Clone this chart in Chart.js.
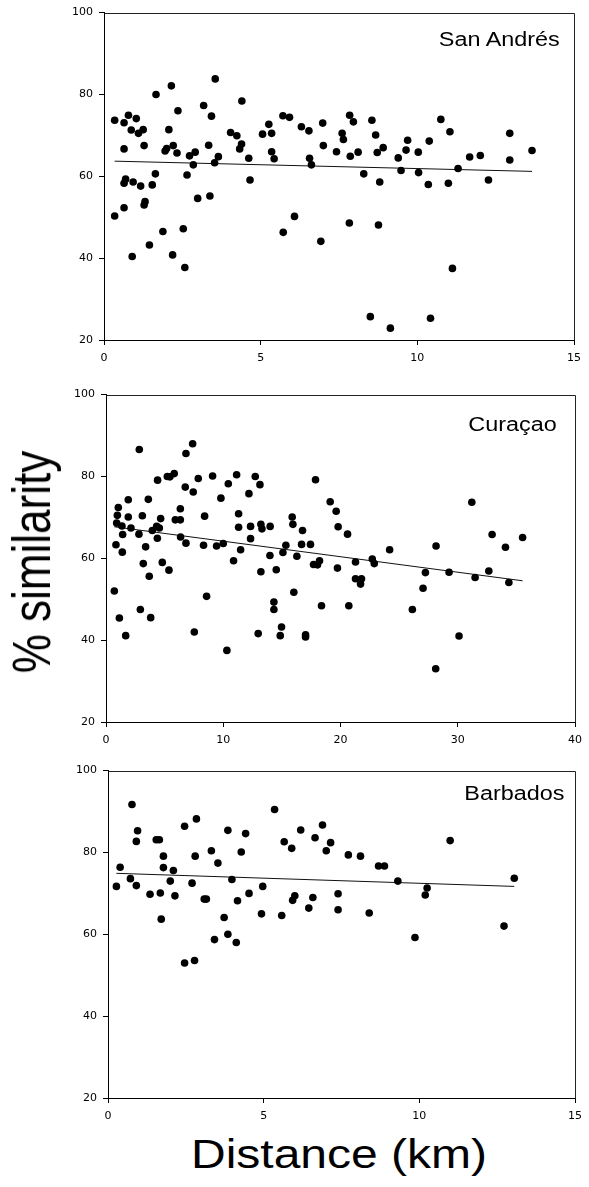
<!DOCTYPE html>
<html lang="en">
<head>
    <meta charset="UTF-8">
    <title>% similarity vs distance</title>
    <script src="https://cdn.jsdelivr.net/npm/chart.js"></script>
    <style>
        body { margin: 0; background: #fff; }
        #page { position: relative; width: 589px; height: 1187px; overflow: hidden; background: #fff; }
        canvas { position: absolute; left: 0; }
        .lbl { position: absolute; font-family: "Liberation Sans", Arial, sans-serif; color: #000; line-height: 1; white-space: nowrap; }
        .panel-name { font-size: 19.5px; transform: scaleX(1.2); transform-origin: right center; }
    </style>
</head>
<body>
<div id="page">
    <canvas id="c1" width="589" height="366" style="top:0px"></canvas>
    <canvas id="c2" width="589" height="366" style="top:382px"></canvas>
    <canvas id="c3" width="589" height="366" style="top:758px"></canvas>

    <div class="lbl panel-name" style="right:29px; top:30px">San Andrés</div>
    <div class="lbl panel-name" style="right:32px; top:415px">Curaçao</div>
    <div class="lbl panel-name" style="right:25px; top:784px">Barbados</div>

    <div class="lbl" style="left:32px; top:562px; font-size:44px; transform: translate(-50%,-50%) rotate(-90deg) scaleY(1.2);">% similarity</div>
    <div class="lbl" style="left:339px; top:1154px; font-size:40px; transform: translate(-50%,-50%) scaleX(1.2);">Distance (km)</div>
</div>

<script>
    // San Andrés
    const sanAndresDist = [0.34, 0.64, 0.78, 1.03, 0.87, 1.10, 1.25, 0.64, 1.28, 0.69, 0.64, 0.93, 1.17, 0.34, 0.64, 1.31, 1.28, 1.54, 1.64, 0.90,
        1.45, 1.88, 1.66, 2.15, 2.07, 1.95, 2.00, 2.21, 2.36, 2.33, 2.19, 2.53, 2.58, 2.65, 2.73, 2.91, 2.85, 2.99, 3.18, 3.34,
        3.38, 3.43, 3.55, 3.53, 3.65, 4.04, 4.24, 4.39, 4.33, 4.40, 4.62, 4.66, 5.06, 5.26, 5.35, 5.35, 5.43, 5.71, 5.92, 5.72,
        6.08, 6.30, 6.54, 6.56, 6.62, 6.92, 6.98, 7.00, 7.42, 7.60, 7.64, 7.84, 7.96, 7.86, 8.11, 8.29, 7.83, 8.55, 8.67, 8.72,
        8.91, 8.80, 8.76, 8.50, 9.14, 9.39, 9.64, 9.69, 9.48, 10.03, 10.04, 10.38, 10.35, 10.42, 10.75, 11.04, 10.99, 11.30, 11.12, 11.67,
        12.01, 12.27, 12.95, 12.95, 13.66];
    const sanAndresSim = [73.7, 73.1, 74.9, 74.1, 71.3, 70.5, 71.4, 66.7, 67.5, 59.3, 58.3, 58.6, 57.6, 50.3, 52.3, 53.8, 53.0, 57.9, 60.6, 40.4,
        43.2, 46.5, 80.0, 82.1, 71.4, 66.2, 66.8, 67.5, 76.0, 65.7, 40.8, 47.2, 37.7, 60.3, 65.0, 65.9, 62.8, 54.6, 77.3, 67.6,
        55.2, 74.7, 83.8, 63.3, 64.8, 70.7, 69.9, 67.9, 66.7, 78.4, 64.4, 59.1, 70.3, 72.7, 70.5, 66.0, 64.3, 74.8, 74.4, 46.3,
        50.2, 72.1, 71.1, 64.4, 62.8, 44.1, 73.0, 67.5, 66.0, 70.5, 69.0, 74.9, 73.3, 64.9, 65.9, 60.6, 48.6, 73.7, 70.1, 65.8,
        67.0, 58.6, 48.1, 25.7, 22.9, 64.5, 66.4, 68.8, 61.4, 65.9, 60.9, 68.6, 58.0, 25.3, 73.9, 70.9, 58.3, 61.9, 37.5, 64.7,
        65.1, 59.1, 70.5, 64.0, 66.3];
    const sanAndresFitX = [0.34, 13.66];
    const sanAndresFitY = [63.7, 61.2];

    // Curaçao
    const curacaoDist = [0.71, 1.05, 0.97, 0.91, 0.85, 1.14, 1.36, 1.42, 1.39, 1.68, 1.90, 1.90, 2.13, 2.84, 2.81, 3.10, 3.18, 2.93, 3.38, 3.61,
        3.69, 3.81, 3.95, 4.32, 4.55, 4.66, 4.38, 4.40, 4.80, 5.23, 5.45, 5.82, 5.37, 5.91, 6.34, 6.34, 6.36, 6.82, 6.76, 6.82,
        7.39, 7.44, 7.53, 7.87, 8.32, 8.41, 8.58, 9.09, 9.43, 9.80, 10.00, 10.31, 10.43, 10.88, 11.14, 11.31, 11.31, 11.48, 12.19, 12.33,
        12.33, 12.73, 13.13, 12.98, 13.21, 13.21, 13.30, 14.00, 13.98, 14.32, 14.32, 14.52, 14.97, 14.86, 15.09, 15.34, 15.88, 15.94, 16.02, 16.28,
        16.76, 16.68, 17.02, 17.02, 17.44, 17.87, 17.70, 18.04, 18.21, 18.38, 19.12, 19.63, 19.80, 19.74, 20.60, 20.71, 21.28, 21.28, 21.79, 21.71,
        22.71, 22.88, 24.19, 26.13, 27.04, 27.24, 28.15, 28.12, 29.26, 30.11, 31.20, 31.48, 32.65, 32.93, 34.07, 34.36, 35.53];
    const curacaoSim = [52.0, 72.4, 70.5, 68.6, 63.3, 45.4, 67.9, 65.8, 61.5, 41.1, 74.3, 70.1, 67.4, 86.6, 65.9, 70.4, 58.7, 47.5, 62.8, 74.4,
        55.6, 45.5, 66.8, 67.8, 67.4, 69.7, 64.9, 79.1, 59.0, 80.0, 79.9, 80.7, 57.1, 69.4, 69.4, 72.1, 65.2, 85.6, 77.4, 63.7,
        88.0, 76.2, 42.0, 79.5, 63.2, 70.3, 50.7, 80.1, 63.0, 74.7, 63.6, 37.5, 78.2, 59.4, 80.4, 70.9, 67.6, 62.1, 75.8, 67.8,
        64.8, 80.0, 78.0, 41.6, 56.7, 68.3, 67.2, 67.8, 60.7, 49.3, 47.5, 57.2, 43.2, 41.1, 61.4, 63.2, 70.1, 68.3, 51.7, 60.5,
        66.8, 63.4, 41.3, 40.8, 63.4, 79.2, 58.5, 58.4, 59.4, 48.4, 73.8, 71.5, 67.7, 57.6, 65.9, 48.4, 59.1, 55.0, 55.0, 53.7,
        59.8, 58.7, 62.1, 47.5, 52.7, 56.5, 63.0, 33.0, 56.6, 41.0, 73.7, 55.3, 56.9, 65.8, 62.7, 54.1, 65.1];
    const curacaoFitX = [0.71, 35.53];
    const curacaoFitY = [67.7, 54.5];

    // Barbados
    const barbadosDist = [0.27, 0.39, 0.77, 0.72, 0.91, 0.95, 0.91, 1.35, 1.55, 1.65, 1.78, 1.78, 1.68, 1.71, 2.00, 2.10, 2.15, 2.46, 2.70, 2.80,
        2.84, 2.46, 2.78, 3.09, 3.16, 3.32, 3.42, 3.53, 3.73, 3.85, 3.85, 3.98, 4.12, 4.16, 4.28, 4.42, 4.53, 4.97, 4.93, 5.35,
        5.66, 5.58, 5.90, 5.93, 6.00, 6.19, 6.45, 6.58, 6.65, 6.89, 7.01, 7.15, 7.39, 7.39, 7.72, 8.11, 8.39, 8.69, 8.88, 9.31,
        9.86, 10.19, 10.25, 10.99, 12.72, 13.05];
    const barbadosSim = [71.7, 76.4, 91.7, 73.6, 82.7, 85.3, 71.9, 69.8, 83.1, 83.1, 79.1, 76.3, 70.1, 63.7, 73.0, 75.6, 69.4, 86.4, 72.5, 79.1,
        88.2, 53.0, 53.6, 68.6, 68.6, 80.4, 58.7, 77.4, 64.1, 85.4, 60.0, 73.4, 58.0, 68.2, 80.1, 84.6, 70.0, 71.7, 65.0, 90.5,
        82.6, 64.6, 81.0, 68.3, 69.4, 85.5, 66.4, 69.0, 83.6, 86.7, 80.4, 82.4, 69.9, 66.0, 79.4, 79.1, 65.2, 76.7, 76.7, 73.0,
        59.2, 69.6, 71.3, 82.9, 62.0, 73.7];
    const barbadosFitX = [0.27, 13.05];
    const barbadosFitY = [74.9, 71.7];

    const yTicks = [20, 40, 60, 80, 100];

    // draws the top and right sides of the box around the plot
    const framePlugin = {
        id: 'frame',
        afterDraw(chart) {
            const a = chart.chartArea;
            const ctx = chart.ctx;
            ctx.save();
            ctx.strokeStyle = '#222';
            ctx.lineWidth = 1;
            ctx.beginPath();
            ctx.moveTo(Math.round(a.left) + 0.5, Math.round(a.top) + 0.5);
            ctx.lineTo(Math.round(a.right) + 0.5, Math.round(a.top) + 0.5);
            ctx.lineTo(Math.round(a.right) + 0.5, Math.round(a.bottom) + 0.5);
            ctx.stroke();
            ctx.restore();
        }
    };

    function toPoints(xs, ys) {
        return xs.map((x, i) => ({ x: x, y: ys[i] }));
    }

    function makePanel(id, xs, ys, fitX, fitY, xMax, xStep, leftW, rightPad) {
        const ctx = document.getElementById(id).getContext('2d');
        return new Chart(ctx, {
            type: 'scatter',
            data: {
                datasets: [{
                    data: toPoints(xs, ys),
                    backgroundColor: '#000',
                    borderColor: '#000',
                    pointRadius: 3.8,
                    pointHoverRadius: 3.8,
                    borderWidth: 0
                }, {
                    type: 'line',
                    data: toPoints(fitX, fitY),
                    borderColor: '#111',
                    borderWidth: 1,
                    pointRadius: 0,
                    fill: false
                }]
            },
            options: {
                responsive: false,
                animation: false,
                devicePixelRatio: 1,
                layout: { padding: { top: 12, right: rightPad, left: 0, bottom: 0 } },
                plugins: { legend: { display: false }, tooltip: { enabled: false } },
                scales: {
                    x: {
                        type: 'linear',
                        min: 0,
                        max: xMax,
                        afterFit: s => { s.height = 26; },
                        ticks: { stepSize: xStep, color: '#000', padding: 7, font: { family: 'DejaVu Sans', size: 11 } },
                        grid: { drawOnChartArea: false, drawTicks: true, tickLength: 5, color: '#000' },
                        border: { display: true, color: '#000', width: 1 }
                    },
                    y: {
                        min: 20,
                        max: 100,
                        afterFit: s => { s.width = leftW; },
                        afterBuildTicks: s => { s.ticks = yTicks.map(v => ({ value: v })); },
                        ticks: { color: '#000', padding: 6, font: { family: 'DejaVu Sans', size: 11 } },
                        grid: { drawOnChartArea: false, drawTicks: true, tickLength: 5, color: '#000' },
                        border: { display: true, color: '#000', width: 1 }
                    }
                }
            },
            plugins: [framePlugin]
        });
    }

    makePanel('c1', sanAndresDist, sanAndresSim, sanAndresFitX, sanAndresFitY, 15, 5, 104, 15);
    makePanel('c2', curacaoDist, curacaoSim, curacaoFitX, curacaoFitY, 40, 10, 106, 14);
    makePanel('c3', barbadosDist, barbadosSim, barbadosFitX, barbadosFitY, 15, 5, 108, 12);
</script>
</body>
</html>
